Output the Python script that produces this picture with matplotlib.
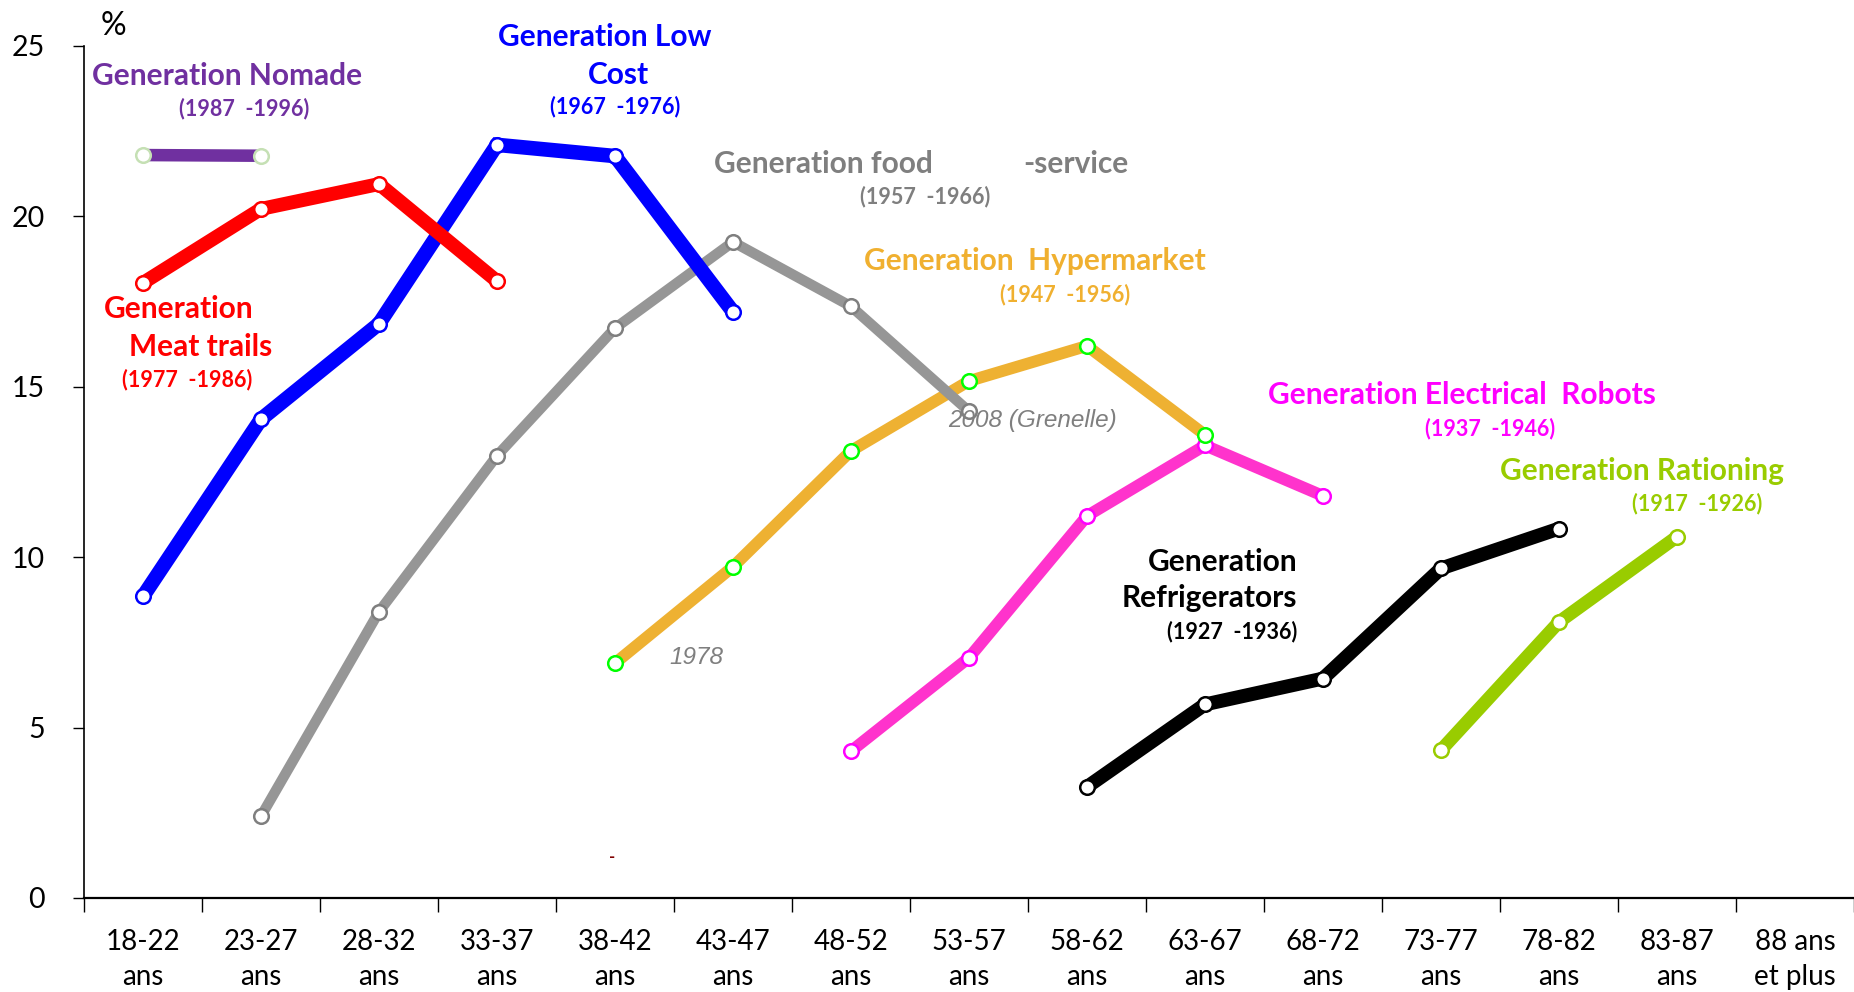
import numpy as np
import matplotlib
matplotlib.use("Agg")
import matplotlib.pyplot as plt

# age groups (x categories)
categories = ["18-22\nans", "23-27\nans", "28-32\nans", "33-37\nans", "38-42\nans",
              "43-47\nans", "48-52\nans", "53-57\nans", "58-62\nans", "63-67\nans",
              "68-72\nans", "73-77\nans", "78-82\nans", "83-87\nans", "88 ans\net plus"]

# each generation: index of first age group, values in %
nomade_start = 0
nomade = [21.8, 21.78]
meat_start = 0
meat = [18.05, 20.22, 20.95, 18.1]
lowcost_start = 0
lowcost = [8.85, 14.05, 16.85, 22.1, 21.77, 17.2]
food_start = 1
food = [2.4, 8.4, 12.98, 16.72, 19.25, 17.36, 14.28]
hyper_start = 4
hyper = [6.89, 9.72, 13.12, 15.17, 16.2, 13.59]
robots_start = 6
robots = [4.31, 7.05, 11.21, 13.28, 11.8]
frigo_start = 8
frigo = [3.26, 5.68, 6.44, 9.67, 10.84]
ration_start = 11
ration = [4.34, 8.1, 10.6]

yticks = [0, 5, 10, 15, 20, 25]

plt.rcParams['font.family'] = ['Lato', 'DejaVu Sans']

fig = plt.figure(figsize=(18.54, 9.92), dpi=100)
ax = fig.add_axes([84/1854, 1-898/992, 1770/1854, (898-46)/992])

def serie(start, vals, col, lw, edge, z):
    x = np.arange(start, start + len(vals))
    ax.plot(x, vals, color=col, lw=lw, solid_capstyle='butt', solid_joinstyle='miter',
            marker='o', ms=10.5, mfc='white', mec=edge, mew=1.8, zorder=z, clip_on=False)

serie(robots_start, robots, '#FF33CC', 8.5, '#FF00FF', 3)
serie(frigo_start, frigo, 'black', 10, 'black', 3)
serie(ration_start, ration, '#99CC00', 9.5, '#99CC00', 3)
serie(hyper_start, hyper, '#EEB132', 8.5, '#00FF00', 4)
serie(food_start, food, '#969696', 7.5, '#7F7F7F', 5)
serie(lowcost_start, lowcost, '#0000FF', 10.5, '#0000FF', 6)
serie(meat_start, meat, '#FF0000', 10, '#FF0000', 7)
serie(nomade_start, nomade, '#7030A0', 9, '#C5E0B4', 8)

ax.set_xlim(-0.5, 14.5)
ax.set_ylim(0, 25)
ax.spines['top'].set_visible(False)
ax.spines['right'].set_visible(False)
ax.spines['left'].set_linewidth(1.2)
ax.spines['bottom'].set_linewidth(1.6)

ax.set_yticks(yticks)
ax.tick_params(axis='y', length=8, width=1, labelsize=20.5, pad=20)
ax.set_xticks(np.arange(-0.5, 15, 1))
ax.set_xticklabels([])
ax.tick_params(axis='x', which='major', length=10, width=1)
ax.set_xticks(np.arange(15), minor=True)
ax.set_xticklabels(categories, minor=True, fontsize=20, linespacing=1.45)
ax.tick_params(axis='x', which='minor', length=0, pad=22)

ax.text(-0.25, 25.6, "%", fontsize=23, ha='center', va='center')

def lab(x, y, s, col, size=21.5, ha='center'):
    ax.text(x, y, s, color=col, fontsize=size, fontweight='bold', ha=ha, va='center')

sub = 15.5
lab(0.71, 24.13, "Generation Nomade", '#7030A0')
lab(0.86, 23.16, "(1987  -1996)", '#7030A0', sub)
lab(3.915, 25.27, "Generation Low", '#0000FF')
lab(4.026, 24.16, "Cost", '#0000FF')
lab(4.005, 23.23, "(1967  -1976)", '#0000FF', sub)
lab(4.838, 21.53, "Generation food", '#7F7F7F', ha='left')
lab(7.461, 21.53, "-service", '#7F7F7F', ha='left')
lab(6.63, 20.59, "(1957  -1966)", '#7F7F7F', sub)
lab(7.56, 18.68, "Generation  Hypermarket", '#F0B030')
lab(7.81, 17.71, "(1947  -1956)", '#F0B030', sub)
lab(11.18, 14.76, "Generation Electrical  Robots", '#FF00FF')
lab(11.42, 13.79, "(1937  -1946)", '#FF00FF', sub)
lab(12.70, 12.54, "Generation Rationing", '#99CC00')
lab(13.17, 11.57, "(1917  -1926)", '#99CC00', sub)
lab(9.784, 9.87, "Generation", 'black', ha='right')
lab(9.784, 8.79, "Refrigerators", 'black', ha='right')
lab(9.784, 7.82, "(1927  -1936)", 'black', sub, ha='right')
lab(0.30, 17.29, "Generation", '#FF0000')
lab(0.49, 16.18, "Meat trails", '#FF0000')
lab(0.37, 15.21, "(1977  -1986)", '#FF0000', sub)

ax.text(6.82, 14.0, "2008 (Grenelle)", color='#7F7F7F', fontsize=17.5, style='italic',
        family='Liberation Sans', ha='left', va='center', zorder=10)
ax.text(4.687, 7.06, "1978", color='#7F7F7F', fontsize=17.5, style='italic',
        family='Liberation Sans', ha='center', va='center')
ax.text(3.976, 1.2, "-", color='#800000', fontsize=12, fontweight='bold', ha='center', va='center')

fig.savefig("out.png", dpi=100)
